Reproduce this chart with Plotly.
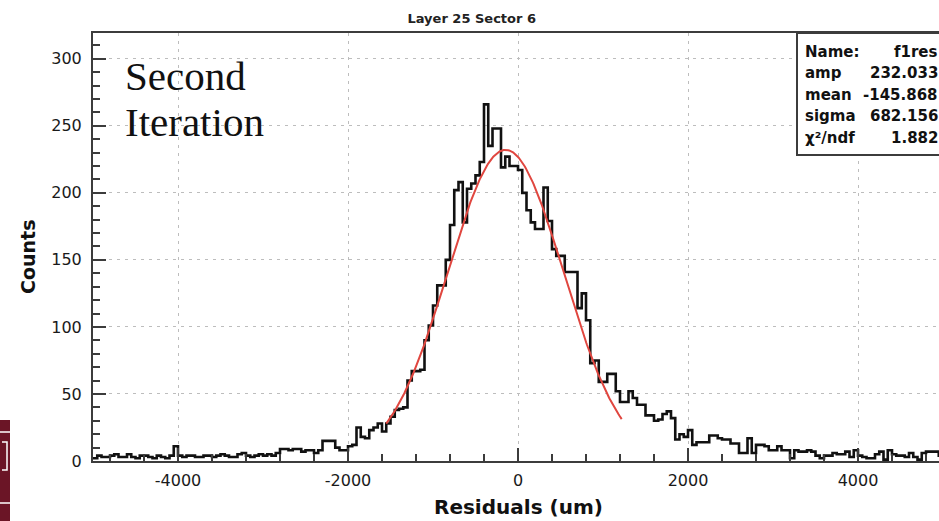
import numpy as np
import plotly.graph_objects as go

# ---------------- data ----------------
bin_low = -5000
bin_width = 50
counts = [
    # -5000 .. -4050
    2, 4, 3, 3, 4, 5, 3, 3, 5, 3, 2, 4, 4, 3, 2, 4, 3, 2, 4, 11,
    # -4000 .. -3050
    4, 3, 4, 4, 3, 3, 4, 4, 3, 4, 5, 4, 3, 3, 5, 6, 4, 3, 4, 5,
    # -3000 .. -2050
    4, 5, 4, 6, 9, 9, 8, 9, 9, 7, 8, 8, 6, 8, 15, 15, 15, 10, 8, 8,
    # -2000 .. -1050
    11, 12, 25, 18, 17, 23, 25, 28, 22, 28, 33, 38, 39, 40, 60, 67, 67, 68, 90, 101,
    # -1000 .. -50
    116, 131, 131, 150, 176, 202, 208, 178, 203, 207, 213, 223, 266, 235, 248, 248, 219, 227, 220, 220,
    # 0 .. 950
    217, 200, 187, 178, 173, 173, 204, 179, 158, 153, 153, 141, 141, 141, 114, 125, 105, 73, 75, 59,
    # 1000 .. 1950
    59, 65, 65, 52, 44, 44, 52, 47, 42, 42, 34, 34, 30, 31, 35, 37, 32, 16, 20, 18,
    # 2000 .. 2950
    23, 12, 14, 14, 14, 19, 19, 17, 16, 16, 13, 13, 6, 6, 17, 6, 12, 12, 11, 8,
    # 3000 .. 3950
    8, 11, 8, 8, 2, 8, 7, 7, 8, 7, 4, 2, 4, 4, 6, 5, 5, 7, 3, 8,
    # 4000 .. 4950
    4, 3, 2, 2, 5, 7, 1, 8, 5, 4, 4, 3, 6, 3, 1, 6, 7, 7, 7, 4,
]

fit_name = "f1res"
fit_amp = 232.033
fit_mean = -145.868
fit_sigma = 682.156
fit_chi2ndf = 1.882
fit_min = -1550
fit_max = 1220

x_min, x_max = -5000, 4953
x_tick_vals = [-4000, -2000, 0, 2000, 4000]
x_tick_text = ["-4000", "-2000", "0", "2000", "4000"]
y_tick_vals = [0, 50, 100, 150, 200, 250, 300]
y_tick_text = ["0", "50", "100", "150", "200", "250", "300"]

title_text = "Layer 25 Sector 6"
x_title = "Residuals (um)"
y_title = "Counts"
stat_labels = ["Name:", "amp", "mean", "sigma", "χ²/ndf"]
stat_values = [fit_name, f"{fit_amp:.3f}", f"{fit_mean:.3f}", f"{fit_sigma:.3f}", f"{fit_chi2ndf:.3f}"]

# ---------------- geometry helpers ----------------
W, H = 939, 521
L, R, T, B = 93, 0, 33, 60
PW, PH = W - L - R, H - T - B


def px(xp):
    return (xp - L) / PW


def py(yp):
    return (H - B - yp) / PH


# ---------------- traces ----------------
counts_arr = np.array(counts, dtype=float)
edges = bin_low + bin_width * np.arange(len(counts) + 1)
step_y = np.append(counts_arr, counts_arr[-1])

fx = np.linspace(fit_min, fit_max, 300)
fy = fit_amp * np.exp(-0.5 * ((fx - fit_mean) / fit_sigma) ** 2)

fig = go.Figure()
fig.add_trace(go.Scatter(x=edges, y=step_y, mode="lines", line_shape="hv",
                         line=dict(color="#111111", width=2.6), hoverinfo="skip"))
fig.add_trace(go.Scatter(x=fx, y=fy, mode="lines",
                         line=dict(color="#e0463f", width=2), hoverinfo="skip"))

axis_col = "#3c3c3c"
font_fam = "DejaVu Sans"

fig.update_layout(
    width=W, height=H,
    margin=dict(l=L, r=R, t=T, b=B),
    paper_bgcolor="white", plot_bgcolor="white",
    showlegend=False,
    title=dict(text=title_text, x=px(518), xanchor="center", y=1 - 18 / H, yanchor="middle",
               font=dict(family=font_fam, size=13, color="#222222", weight="bold")),
    xaxis=dict(range=[x_min, x_max], showline=True, linecolor=axis_col, linewidth=2,
               mirror=True, ticks="inside", ticklen=13, tickwidth=2, tickcolor=axis_col,
               tickvals=x_tick_vals, ticktext=x_tick_text, ticklabelstandoff=4,
               tickfont=dict(family=font_fam, size=16, color="#1a1a1a"),
               showgrid=True, gridcolor="#bdbdbd", gridwidth=1, griddash="3px,5px",
               zeroline=False,
               minor=dict(ticks="inside", ticklen=7, tickwidth=1.5, tickcolor=axis_col,
                          dtick=400, tick0=0, showgrid=False)),
    yaxis=dict(range=[0, counts_arr.max() * 1.2], showline=True, linecolor=axis_col, linewidth=2,
               mirror=False, ticks="inside", ticklen=13, tickwidth=2, tickcolor=axis_col,
               tickvals=y_tick_vals, ticktext=y_tick_text, ticklabelstandoff=6,
               tickfont=dict(family=font_fam, size=16, color="#1a1a1a"),
               showgrid=True, gridcolor="#bdbdbd", gridwidth=1, griddash="3px,5px",
               zeroline=False,
               minor=dict(ticks="inside", ticklen=7, tickwidth=1.5, tickcolor=axis_col,
                          dtick=10, tick0=0, showgrid=False)),
)

annotations = []
# axis titles
annotations.append(dict(text=x_title, xref="paper", yref="paper", x=px(518), y=py(507),
                        xanchor="center", yanchor="middle", showarrow=False,
                        font=dict(family=font_fam, size=20, color="#111111", weight="bold")))
annotations.append(dict(text=y_title, xref="paper", yref="paper", x=px(28), y=py(257),
                        xanchor="center", yanchor="middle", showarrow=False, textangle=-90,
                        font=dict(family=font_fam, size=19, color="#111111", weight="bold")))
# "Second Iteration"
annotations.append(dict(text="Second", xref="paper", yref="paper", x=px(123), y=py(76),
                        xanchor="left", yanchor="middle", showarrow=False,
                        font=dict(family="Liberation Serif", size=41, color="#111111")))
annotations.append(dict(text="Iteration", xref="paper", yref="paper", x=px(123), y=py(122),
                        xanchor="left", yanchor="middle", showarrow=False,
                        font=dict(family="Liberation Serif", size=41, color="#111111")))

# stats box
row_y = [51.5, 73, 94.5, 116, 137.5]
for lab, val, yy in zip(stat_labels, stat_values, row_y):
    annotations.append(dict(text=lab, xref="paper", yref="paper", x=px(803), y=py(yy),
                            xanchor="left", yanchor="middle", showarrow=False,
                            font=dict(family=font_fam, size=15, color="#111111", weight="bold")))
    annotations.append(dict(text=val, xref="paper", yref="paper", x=px(940), y=py(yy),
                            xanchor="right", yanchor="middle", showarrow=False,
                            font=dict(family=font_fam, size=15, color="#111111", weight="bold")))

fig.update_layout(annotations=annotations)

shapes = [
    dict(type="rect", xref="paper", yref="paper", x0=px(797), x1=px(960), y0=py(155), y1=py(33),
         line=dict(color=axis_col, width=2), fillcolor="white", layer="above"),
    # maroon logo fragment at the left edge
    dict(type="rect", xref="paper", yref="paper", x0=px(-2), x1=px(10), y0=py(523), y1=py(420),
         line=dict(width=0), fillcolor="#6b1526", layer="above"),
    dict(type="line", xref="paper", yref="paper", x0=px(0), x1=px(10), y0=py(432), y1=py(432),
         line=dict(color="white", width=1.5), layer="above"),
    dict(type="line", xref="paper", yref="paper", x0=px(0), x1=px(10), y0=py(503), y1=py(503),
         line=dict(color="white", width=1.5), layer="above"),
    dict(type="path", xref="paper", yref="paper",
         path=f"M {px(2)},{py(442)} L {px(7)},{py(442)} L {px(7)},{py(470)} L {px(2)},{py(470)}",
         line=dict(color="white", width=1.5), layer="above"),
]
fig.update_layout(shapes=shapes)

fig.write_html("out.html", config={"displayModeBar": False},
               post_script="document.body.style.margin='0';document.body.style.overflow='hidden';")
